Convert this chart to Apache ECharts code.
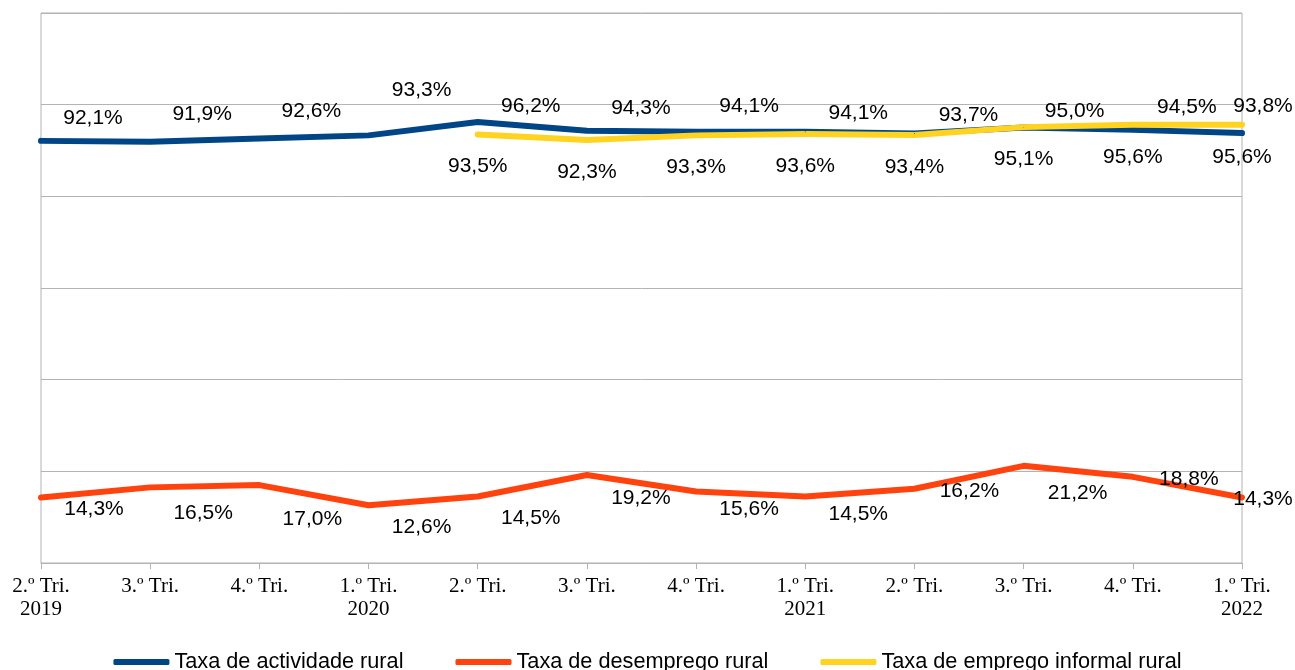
<!DOCTYPE html>
<html>
<head>
<meta charset="utf-8">
<script src="https://cdn.jsdelivr.net/npm/echarts@6/dist/echarts.min.js"></script>
<style>
  html, body { margin: 0; padding: 0; background: #ffffff; }
  #chart { width: 1295px; height: 670px; }
</style>
</head>
<body>
<div id="chart"></div>
<script>
// Quarter labels and their years
const quarters = ['2.º Tri.', '3.º Tri.', '4.º Tri.', '1.º Tri.', '2.º Tri.', '3.º Tri.',
                  '4.º Tri.', '1.º Tri.', '2.º Tri.', '3.º Tri.', '4.º Tri.', '1.º Tri.'];
const years = ['2019', '', '', '2020', '', '', '', '2021', '', '', '', '2022'];

// Series values (%)
const actividade = [92.1, 91.9, 92.6, 93.3, 96.2, 94.3, 94.1, 94.1, 93.7, 95.0, 94.5, 93.8];
const desemprego = [14.3, 16.5, 17.0, 12.6, 14.5, 19.2, 15.6, 14.5, 16.2, 21.2, 18.8, 14.3];
const informal = [null, null, null, null, 93.5, 92.3, 93.3, 93.6, 93.4, 95.1, 95.6, 95.6];

const seriesNames = ['Taxa de actividade rural', 'Taxa de desemprego rural', 'Taxa de emprego informal rural'];

// Label placement (pixel nudges relative to each point)
const nudgeActividade = [[52,-23],[52,-28],[52,-27],[53,-45],[53,-16],[54,-23],[53,-26],[53,-19],[54,-18],[51,-16],[54,-23],[21,-27]];
const nudgeDesemprego = [[53,12],[53,26],[53,34],[53,22],[53,22],[54,23],[53,18],[53,18],[55,2],[54,27],[56,2],[21,2]];
const nudgeInformal = [[0,32]];

const categories = quarters.map((q, i) => years[i] ? q + '\n' + years[i] : q);

function fmt(v) { return v.toFixed(1).replace('.', ',') + '%'; }

function withLabels(values, nudges) {
  return values.map((v, i) => {
    if (v === null) return null;
    const off = nudges.length === 1 ? nudges[0] : nudges[i];
    return { value: v, label: { offset: off } };
  });
}

const colors = ['#004586', '#ff420e', '#ffd320'];

const labelStyle = {
  show: true,
  position: 'inside',
  formatter: p => fmt(p.value),
  fontFamily: 'Liberation Sans',
  fontSize: 21,
  color: '#000000'
};

function lineSeries(name, values, nudges, color) {
  return {
    name: name,
    type: 'line',
    data: withLabels(values, nudges),
    symbol: 'circle',
    symbolSize: 1,
    showSymbol: true,
    connectNulls: false,
    color: color,
    itemStyle: { color: color },
    lineStyle: { width: 6, color: color, cap: 'round', join: 'round' },
    label: labelStyle,
    emphasis: { disabled: true },
    animation: false
  };
}

const chart = echarts.init(document.getElementById('chart'), null, { renderer: 'canvas' });
chart.setOption({
  backgroundColor: '#ffffff',
  animation: false,
  grid: {
    left: 41, right: 53, top: 13, bottom: 107,
    show: true, borderColor: '#b3b3b3', borderWidth: 1, backgroundColor: 'transparent'
  },
  xAxis: {
    type: 'category',
    data: categories,
    boundaryGap: false,
    axisLine: { show: true, lineStyle: { color: '#b3b3b3', width: 1 } },
    axisTick: { show: true, length: 6, alignWithLabel: true, lineStyle: { color: '#b3b3b3' } },
    axisLabel: {
      interval: 0,
      margin: 12,
      fontFamily: 'Liberation Serif',
      fontSize: 21,
      lineHeight: 23,
      color: '#000000'
    },
    splitLine: { show: false }
  },
  yAxis: {
    type: 'value',
    min: 0, max: 120, interval: 20,
    axisLine: { show: false },
    axisTick: { show: false },
    axisLabel: { show: false },
    splitLine: { show: true, lineStyle: { color: '#b3b3b3', width: 1 } }
  },
  legend: {
    top: 646,
    left: 'center',
    itemGap: 52,
    itemWidth: 56,
    itemHeight: 6,
    icon: 'roundRect',
    textStyle: { fontFamily: 'Liberation Sans', fontSize: 21.7, color: '#000000' },
    data: seriesNames
  },
  series: [
    lineSeries(seriesNames[0], actividade, nudgeActividade, colors[0]),
    lineSeries(seriesNames[1], desemprego, nudgeDesemprego, colors[1]),
    lineSeries(seriesNames[2], informal, nudgeInformal, colors[2])
  ]
});
</script>
</body>
</html>
